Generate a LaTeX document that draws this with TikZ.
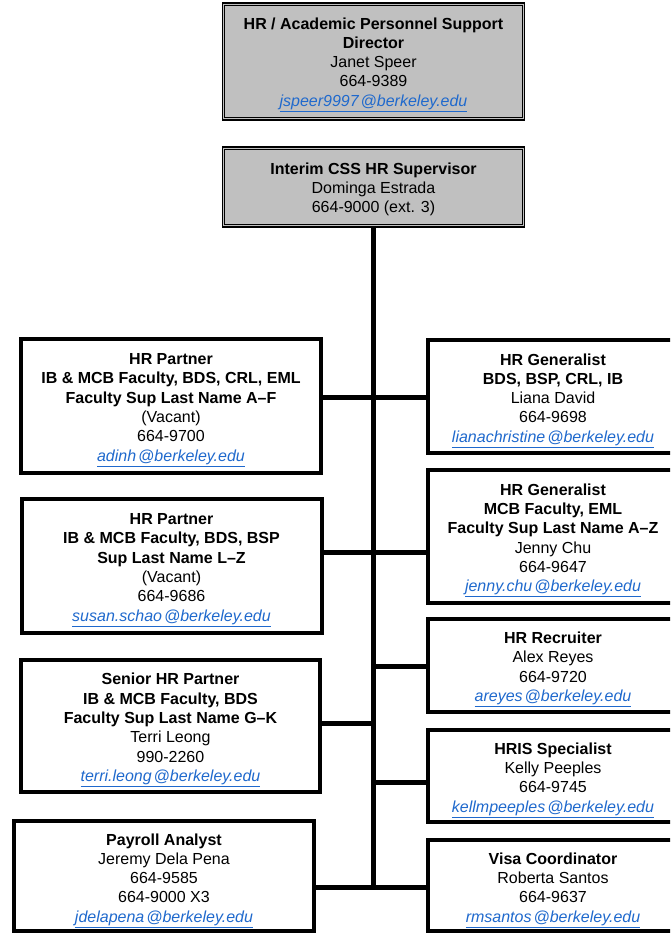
\documentclass[tikz,border=0pt]{standalone}
\usepackage{fontspec}
\setmainfont{Liberation Sans}
\definecolor{linkblue}{RGB}{31,105,205}
\definecolor{boxgray}{RGB}{192,192,192}
\newcommand{\lnk}[1]{\textcolor{linkblue}{\itshape\underline{#1}}}
\begin{document}
\begin{tikzpicture}[x=1pt,y=-1pt,
  txt/.style={font={\fontsize{16}{19.3}\selectfont}, align=center, inner sep=0pt},
  body/.style={label={[txt, yshift=-3.5pt]center:{#1}}},
  topbox/.style={draw=black, fill=boxgray, line width=1.3pt, rectangle, inner sep=0pt},
  orgbox/.style={draw=black, line width=4pt, rectangle, inner sep=0pt},
  conn/.style={line width=5pt, draw=black}]
\useasboundingbox (0,0) rectangle (670,934);
\clip (0,0) rectangle (670,934);
\fill[white] (0,0) rectangle (670,934);

% top boxes
\node[topbox, minimum width=302pt, minimum height=117pt] (T1) at (373.5,61.5) {};
\draw[line width=0.8pt] ([shift={(3,3)}]T1.north west) rectangle ([shift={(-3,-3)}]T1.south east);
\node[txt, yshift=-3pt] (T1t) at (T1.center)
  {\textbf{HR / Academic Personnel Support}\\ \textbf{Director}\\ Janet Speer\\ 664-9389\\ \lnk{jspeer9997\kern2pt@berkeley.edu}};
\node[topbox, minimum width=302pt, minimum height=80pt] (T2) at (373.5,187) {};
\draw[line width=0.8pt] ([shift={(3,3)}]T2.north west) rectangle ([shift={(-3,-3)}]T2.south east);
\node[txt, yshift=-2.5pt] (T2t) at (T2.center)
  {\textbf{Interim CSS HR Supervisor}\\ Dominga Estrada\\ 664-9000 (ext. 3)};

% left boxes
\node[orgbox, minimum width=300pt, minimum height=134pt] (L1) at (171,406) {};
\node[txt, yshift=-4pt] (L1t) at (L1.center)
  {\textbf{HR Partner}\\ \textbf{IB \& MCB Faculty, BDS, CRL, EML}\\ \textbf{Faculty Sup Last Name A--F}\\ (Vacant)\\ 664-9700\\ \lnk{adinh\kern2pt@berkeley.edu}};
\node[orgbox, minimum width=300pt, minimum height=134pt] (L2) at (171.5,566) {};
\node[txt, yshift=-4pt] (L2t) at (L2.center)
  {\textbf{HR Partner}\\ \textbf{IB \& MCB Faculty, BDS, BSP}\\ \textbf{Sup Last Name L--Z}\\ (Vacant)\\ 664-9686\\ \lnk{susan.schao\kern2pt@berkeley.edu}};
\node[orgbox, minimum width=299pt, minimum height=132pt] (L3) at (170.5,726) {};
\node[txt, yshift=-4pt] (L3t) at (L3.center)
  {\textbf{Senior HR Partner}\\ \textbf{IB \& MCB Faculty, BDS}\\ \textbf{Faculty Sup Last Name G--K}\\ Terri Leong\\ 990-2260\\ \lnk{terri.leong\kern2pt@berkeley.edu}};
\node[orgbox, minimum width=300pt, minimum height=110pt] (L4) at (164,876) {};
\node[txt, yshift=-4.5pt] (L4t) at (L4.center)
  {\textbf{Payroll Analyst}\\ Jeremy Dela Pena\\ 664-9585\\ 664-9000 X3\\ \lnk{jdelapena\kern2pt@berkeley.edu}};

% right boxes
\node[orgbox, minimum width=250pt, minimum height=113pt] (R1) at (553,396.5) {};
\node[txt, yshift=-4pt] (R1t) at (R1.center)
  {\textbf{HR Generalist}\\ \textbf{BDS, BSP, CRL, IB}\\ Liana David\\ 664-9698\\ \lnk{lianachristine\kern2pt@berkeley.edu}};
\node[orgbox, minimum width=250pt, minimum height=133pt] (R2) at (553,536.5) {};
\node[txt, yshift=-4pt] (R2t) at (R2.center)
  {\textbf{HR Generalist}\\ \textbf{MCB Faculty, EML}\\ \textbf{Faculty Sup Last Name A--Z}\\ Jenny Chu\\ 664-9647\\ \lnk{jenny.chu\kern2pt@berkeley.edu}};
\node[orgbox, minimum width=250pt, minimum height=93pt] (R3) at (553,665.5) {};
\node[txt, yshift=-4pt] (R3t) at (R3.center)
  {\textbf{HR Recruiter}\\ Alex Reyes\\ 664-9720\\ \lnk{areyes\kern2pt@berkeley.edu}};
\node[orgbox, minimum width=250pt, minimum height=92pt] (R4) at (553,776) {};
\node[txt, yshift=-4pt] (R4t) at (R4.center)
  {\textbf{HRIS Specialist}\\ Kelly Peeples\\ 664-9745\\ \lnk{kellmpeeples\kern2pt@berkeley.edu}};
\node[orgbox, minimum width=250pt, minimum height=91pt] (R5) at (553,885.5) {};
\node[txt, yshift=-4.5pt] (R5t) at (R5.center)
  {\textbf{Visa Coordinator}\\ Roberta Santos\\ 664-9637\\ \lnk{rmsantos\kern2pt@berkeley.edu}};

% junction coordinates on the trunk
\coordinate (j1) at (373.5,397);
\coordinate (j2) at (373.5,552);
\coordinate (j3) at (373.5,666);
\coordinate (j4) at (373.5,723);
\coordinate (j5) at (373.5,782);
\coordinate (j6) at (373.5,887);

% connectors
\draw[conn] (T2.south) -- (j6);
\draw[conn] (L1.east |- j1) -- (R1.west |- j1);
\draw[conn] (L2.east |- j2) -- (R2.west |- j2);
\draw[conn] (j3) -- (R3.west |- j3);
\draw[conn] (L3.east |- j4) -- (j4);
\draw[conn] (j5) -- (R4.west |- j5);
\draw[conn] (L4.east |- j6) -- (R5.west |- j6);
\end{tikzpicture}
\end{document}
